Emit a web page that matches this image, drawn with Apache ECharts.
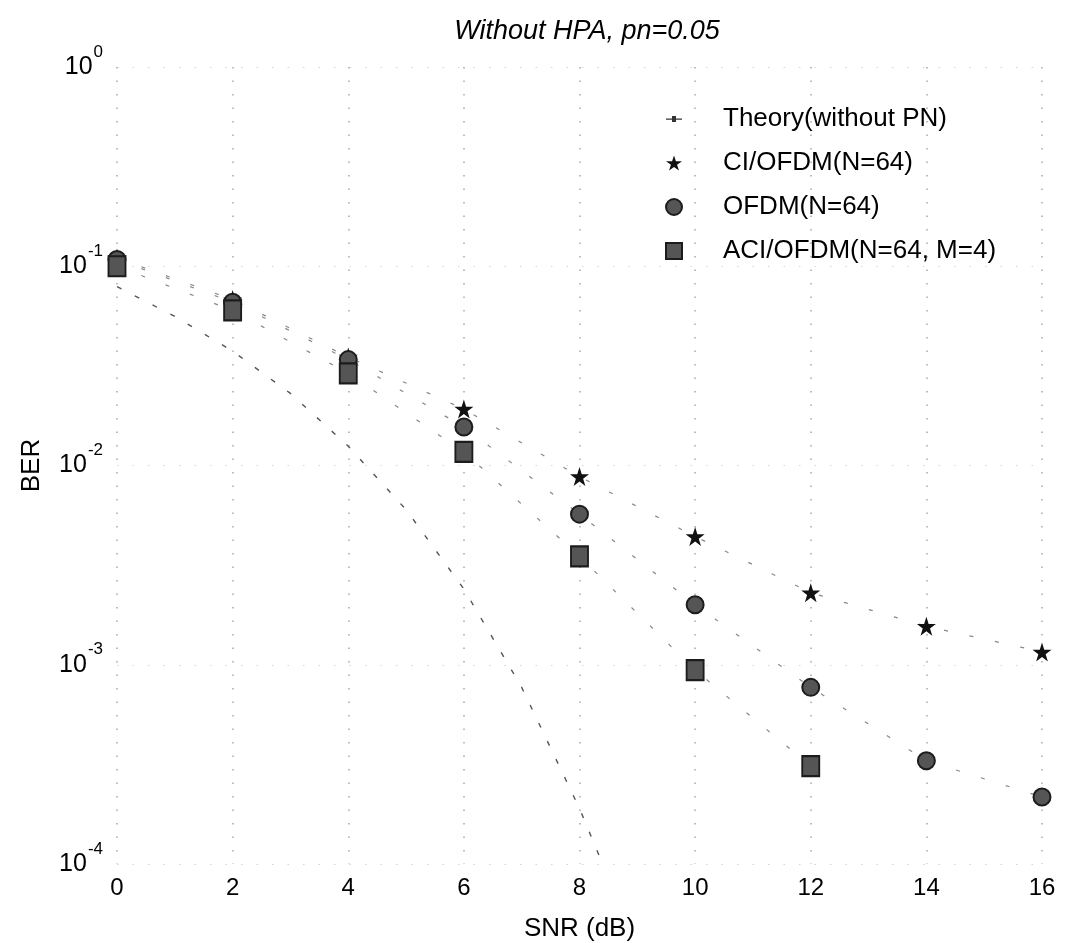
<!DOCTYPE html>
<html>
<head>
<meta charset="utf-8">
<script src="https://cdn.jsdelivr.net/npm/echarts@6/dist/echarts.min.js"></script>
<style>
  html, body { margin: 0; padding: 0; background: #fff; }
  #chart { width: 1083px; height: 943px; }
</style>
</head>
<body>
<div id="chart"></div>
<script>
// SNR points of the simulated curves (dB)
const snr = [0, 2, 4, 6, 8, 10, 12, 14, 16]
const ciOfdm = [0.11, 0.068, 0.035, 0.0192, 0.0088, 0.0044, 0.0023, 0.00156, 0.00116]
const ofdm = [0.108, 0.066, 0.034, 0.0156, 0.0057, 0.002, 0.00077, 0.00033, 0.000217]
const aciOfdm = [0.1, 0.06, 0.029, 0.0117, 0.0035, 0.00094, 0.00031]

// theory curve (it leaves the plot at the bottom near 8.4 dB)
const snrTheory = [0, 1, 2, 3, 4, 5, 6, 7, 8, 8.4]
const berTheory = [0.079, 0.056, 0.0375, 0.023, 0.0125, 0.006, 0.0024, 0.00077, 0.00019, 0.0001]

const xTicks = [0, 2, 4, 6, 8, 10, 12, 14, 16]

const FONT = '"Liberation Sans", Arial, Helvetica, sans-serif'
const starPath = 'path://M10,0 L12.25,6.91 L19.51,6.91 L13.63,11.18 L15.88,18.09 L10,13.82 L4.12,18.09 L6.37,11.18 L0.49,6.91 L7.75,6.91 Z'
const theoryIcon = 'path://M0,4 L16,4 L16,5.2 L0,5.2 Z M6,1.5 L10,1.5 L10,7.5 L6,7.5 Z'

const pairs = (xs, ys) => ys.map((y, i) => [xs[i], y])

const chart = echarts.init(document.getElementById('chart'))
const option = {
  animation: false,
  backgroundColor: '#fff',
  title: {
    text: 'Without HPA, pn=0.05',
    left: 582,
    textAlign: 'center',
    top: 13,
    textStyle: { fontFamily: FONT, fontSize: 27, fontStyle: 'italic', fontWeight: 'normal', color: '#000' }
  },
  legend: {
    orient: 'vertical',
    left: 660,
    top: 99,
    itemWidth: 16,
    itemHeight: 16,
    itemGap: 14,
    selectedMode: false,
    textStyle: { fontFamily: FONT, fontSize: 26, color: '#000', lineHeight: 30, padding: [0, 0, 0, 36] },
    data: [
      { name: 'Theory(without PN)', icon: theoryIcon },
      { name: 'CI/OFDM(N=64)', icon: starPath },
      { name: 'OFDM(N=64)', icon: 'circle' },
      { name: 'ACI/OFDM(N=64, M=4)', icon: 'rect' }
    ]
  },
  grid: { left: 117, right: 41, top: 67, bottom: 79, containLabel: false, outerBoundsMode: 'none' },
  xAxis: {
    type: 'value',
    min: 0,
    max: 16,
    interval: 2,
    name: 'SNR (dB)',
    nameLocation: 'middle',
    nameGap: 52,
    nameTextStyle: { fontFamily: FONT, fontSize: 26, color: '#000' },
    axisLine: { show: false },
    axisTick: { show: false },
    axisLabel: {
      margin: 12,
      fontFamily: FONT,
      fontSize: 24,
      color: '#000',
      formatter: (v) => (xTicks.includes(v) ? String(v) : '')
    },
    splitLine: { show: true, lineStyle: { color: '#a8a8a8', width: 1.5, type: [1.5, 12] } }
  },
  yAxis: {
    type: 'log',
    logBase: 10,
    min: 0.0001,
    max: 1,
    name: 'BER',
    nameLocation: 'middle',
    nameGap: 72,
    nameTextStyle: { fontFamily: FONT, fontSize: 26, color: '#000' },
    axisLine: { show: false },
    axisTick: { show: false },
    axisLabel: {
      margin: 14,
      showMinLabel: true,
      showMaxLabel: true,
      formatter: (v) => '{b|10}{s|' + Math.round(Math.log10(v)) + '}',
      rich: {
        b: { fontFamily: FONT, fontSize: 25, color: '#000', lineHeight: 24, padding: [12, 0, 12, 0] },
        s: { fontFamily: FONT, fontSize: 17, color: '#000', lineHeight: 18, padding: [0, 0, 30, 1] }
      }
    },
    splitLine: { show: true, lineStyle: { color: '#d6d6d6', width: 1, type: [1.5, 14] } }
  },
  series: [
    {
      name: 'Theory(without PN)',
      type: 'line',
      data: pairs(snrTheory, berTheory),
      symbol: 'none',
      clip: true,
      itemStyle: { color: '#333' },
      lineStyle: { color: '#555', width: 1.4, type: [5, 15] }
    },
    {
      name: 'CI/OFDM(N=64)',
      type: 'line',
      data: pairs(snr, ciOfdm),
      symbol: starPath,
      symbolSize: 19,
      itemStyle: { color: '#111' },
      lineStyle: { color: '#888', width: 1.2, type: [4, 22] }
    },
    {
      name: 'OFDM(N=64)',
      type: 'line',
      data: pairs(snr, ofdm),
      symbol: 'circle',
      symbolSize: 17,
      itemStyle: { color: '#555', borderColor: '#1c1c1c', borderWidth: 2 },
      lineStyle: { color: '#888', width: 1.2, type: [4, 22] }
    },
    {
      name: 'ACI/OFDM(N=64, M=4)',
      type: 'line',
      data: pairs(snr, aciOfdm),
      symbol: 'rect',
      symbolSize: [17, 20],
      itemStyle: { color: '#555', borderColor: '#1c1c1c', borderWidth: 2 },
      lineStyle: { color: '#888', width: 1.2, type: [4, 22] }
    }
  ]
}
option && chart.setOption(option)
</script>
</body>
</html>
